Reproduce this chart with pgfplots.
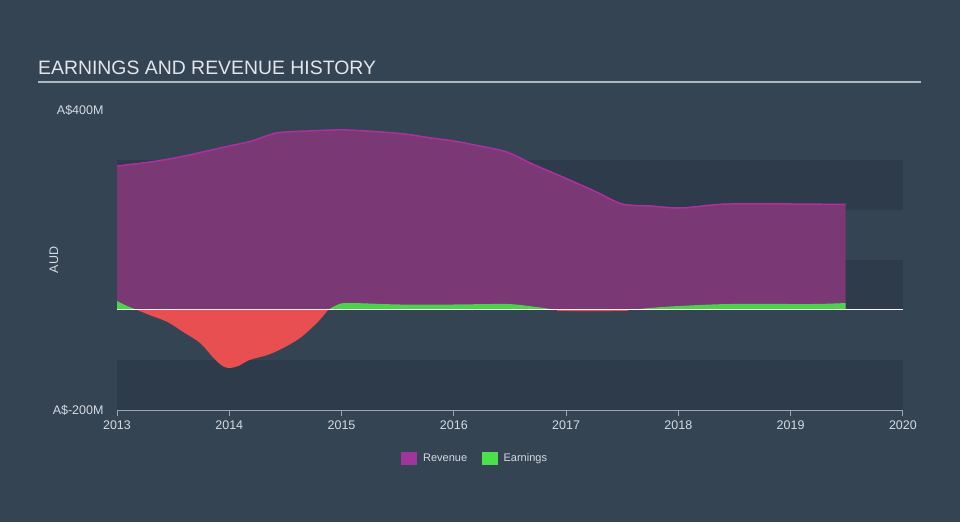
\documentclass[border=0pt]{standalone}
\usepackage{pgfplots}
\pgfplotsset{compat=1.18}
\usepackage{fontspec}
\setmainfont{Liberation Sans}
\definecolor{bg}{HTML}{344453}
\definecolor{band}{HTML}{2D3B4A}
\definecolor{revfill}{HTML}{7A3875}
\definecolor{revline}{HTML}{AC309E}
\definecolor{revleg}{HTML}{A0359B}
\definecolor{earn}{HTML}{4BD44B}
\definecolor{earnleg}{HTML}{4CE04C}
\definecolor{loss}{HTML}{E84F50}
\definecolor{txt}{HTML}{D5DAE0}
\definecolor{axln}{HTML}{9BA6B2}
\begin{document}
\begin{tikzpicture}
\fill[bg] (0pt,0pt) rectangle (960pt,522pt);
\useasboundingbox (0pt,0pt) rectangle (960pt,522pt);
\node[anchor=base west, text=txt!70!white, font=\fontsize{19.4}{24}\selectfont, inner sep=0pt] at (38pt,447pt) {EARNINGS AND REVENUE HISTORY};
\draw[axln!80!white, line width=1.5pt] (38pt,440pt) -- (921pt,440pt);
\node[rotate=90, text=txt, font=\fontsize{12.5}{14}\selectfont, inner sep=0pt] at (54pt,262pt) {AUD};
\begin{axis}[
  at={(117pt,112pt)}, anchor=south west,
  scale only axis, width=786pt, height=300pt,
  xmin=2013, xmax=2020, ymin=-200, ymax=400,
  axis x line*=bottom, axis y line*=left,
  x axis line style={axln, line width=1pt, -},
  y axis line style={draw=none},
  xtick={2013,...,2020},
  xticklabel style={/pgf/number format/1000 sep={}, text=txt, font=\fontsize{12.5}{14}\selectfont, yshift=-1pt},
  x tick style={axln, line width=1pt},
  tick align=outside, major tick length=6pt,
  ytick={-200,400}, yticklabels={A\$-200M,A\$400M},
  y tick style={draw=none},
  yticklabel style={text=txt, font=\fontsize{12.5}{14}\selectfont, xshift=-4pt},
  /pgf/number format/assume math mode=true,
  axis background/.style={fill=none},
  clip=false,
  legend style={at={(rel axis cs:0.456,-0.16)}, anchor=center, draw=none, fill=none, text=txt, font=\fontsize{11}{13}\selectfont, legend columns=2, column sep=0pt, /tikz/every even column/.append style={column sep=12pt}, nodes={inner ysep=2.5pt, inner xsep=2.5pt}},
]
\fill[band] (axis cs:2013,200) rectangle (axis cs:2020,300);
\fill[band] (axis cs:2013,0) rectangle (axis cs:2020,100);
\fill[band] (axis cs:2013,-100) rectangle (axis cs:2020,-200);
% revenue
\addplot[forget plot, fill=revfill, draw=none, smooth, tension=0.5] coordinates {
(2013,288)(2013.3,296)(2013.56,306)(2013.8,318)(2014,328)(2014.2,338)(2014.42,354)(2014.7,358)(2015.05,360)(2015.52,353)(2015.8,344)(2016.0,338)(2016.23,328)(2016.47,316)(2016.7,292)(2016.97,266)(2017.27,236)(2017.5,212)(2017.75,208)(2018.01,204)(2018.3,210)(2018.46,212)(2019.0,212)(2019.49,211)
} \closedcycle;
% earnings positive
\addplot[forget plot, fill=earn, draw=none, smooth, tension=0.5] coordinates {(2013,18)(2013.09,8)(2013.18,0)} \closedcycle;
\addplot[forget plot, fill=earn, draw=none, smooth, tension=0.5] coordinates {(2014.88,0)(2014.95,9)(2015.05,14)(2015.52,11)(2016,11)(2016.47,12)(2016.7,7)(2016.92,0)} \closedcycle;
\addplot[forget plot, fill=earn, draw=none, smooth, tension=0.5] coordinates {(2017.55,0)(2017.8,5)(2018.01,8)(2018.46,12)(2019.2,12)(2019.49,14)} \closedcycle;
% earnings negative
\addplot[forget plot, fill=loss, draw=none, smooth, tension=0.5] coordinates {
(2013.18,0)(2013.29,-10)(2013.45,-24)(2013.59,-44)(2013.74,-66)(2013.86,-96)(2013.94,-112)(2014.0,-116)(2014.08,-112)(2014.18,-100)(2014.34,-90)(2014.48,-76)(2014.63,-56)(2014.78,-26)(2014.88,0)
} \closedcycle;
\addplot[forget plot, loss, line width=1.5pt, smooth] coordinates {(2016.92,0)(2017.2,-1)(2017.55,0)};
% zero line
\addplot[forget plot, white!85!pink, line width=1pt] coordinates {(2013,0)(2020,0)};
% revenue line
\addplot[forget plot, revline, line width=1.5pt, smooth, tension=0.5] coordinates {
(2013,288)(2013.3,296)(2013.56,306)(2013.8,318)(2014,328)(2014.2,338)(2014.42,354)(2014.7,358)(2015.05,360)(2015.52,353)(2015.8,344)(2016.0,338)(2016.23,328)(2016.47,316)(2016.7,292)(2016.97,266)(2017.27,236)(2017.5,212)(2017.75,208)(2018.01,204)(2018.3,210)(2018.46,212)(2019.0,212)(2019.49,211)
};
\addlegendimage{legend image code/.code={\fill[revleg] (0pt,-6pt) rectangle (15pt,6pt); \path (19pt,0pt);}}
\addlegendentry{Revenue}
\addlegendimage{legend image code/.code={\fill[earnleg] (0pt,-6pt) rectangle (15pt,6pt); \path (19pt,0pt);}}
\addlegendentry{Earnings}
\end{axis}
\end{tikzpicture}
\end{document}
